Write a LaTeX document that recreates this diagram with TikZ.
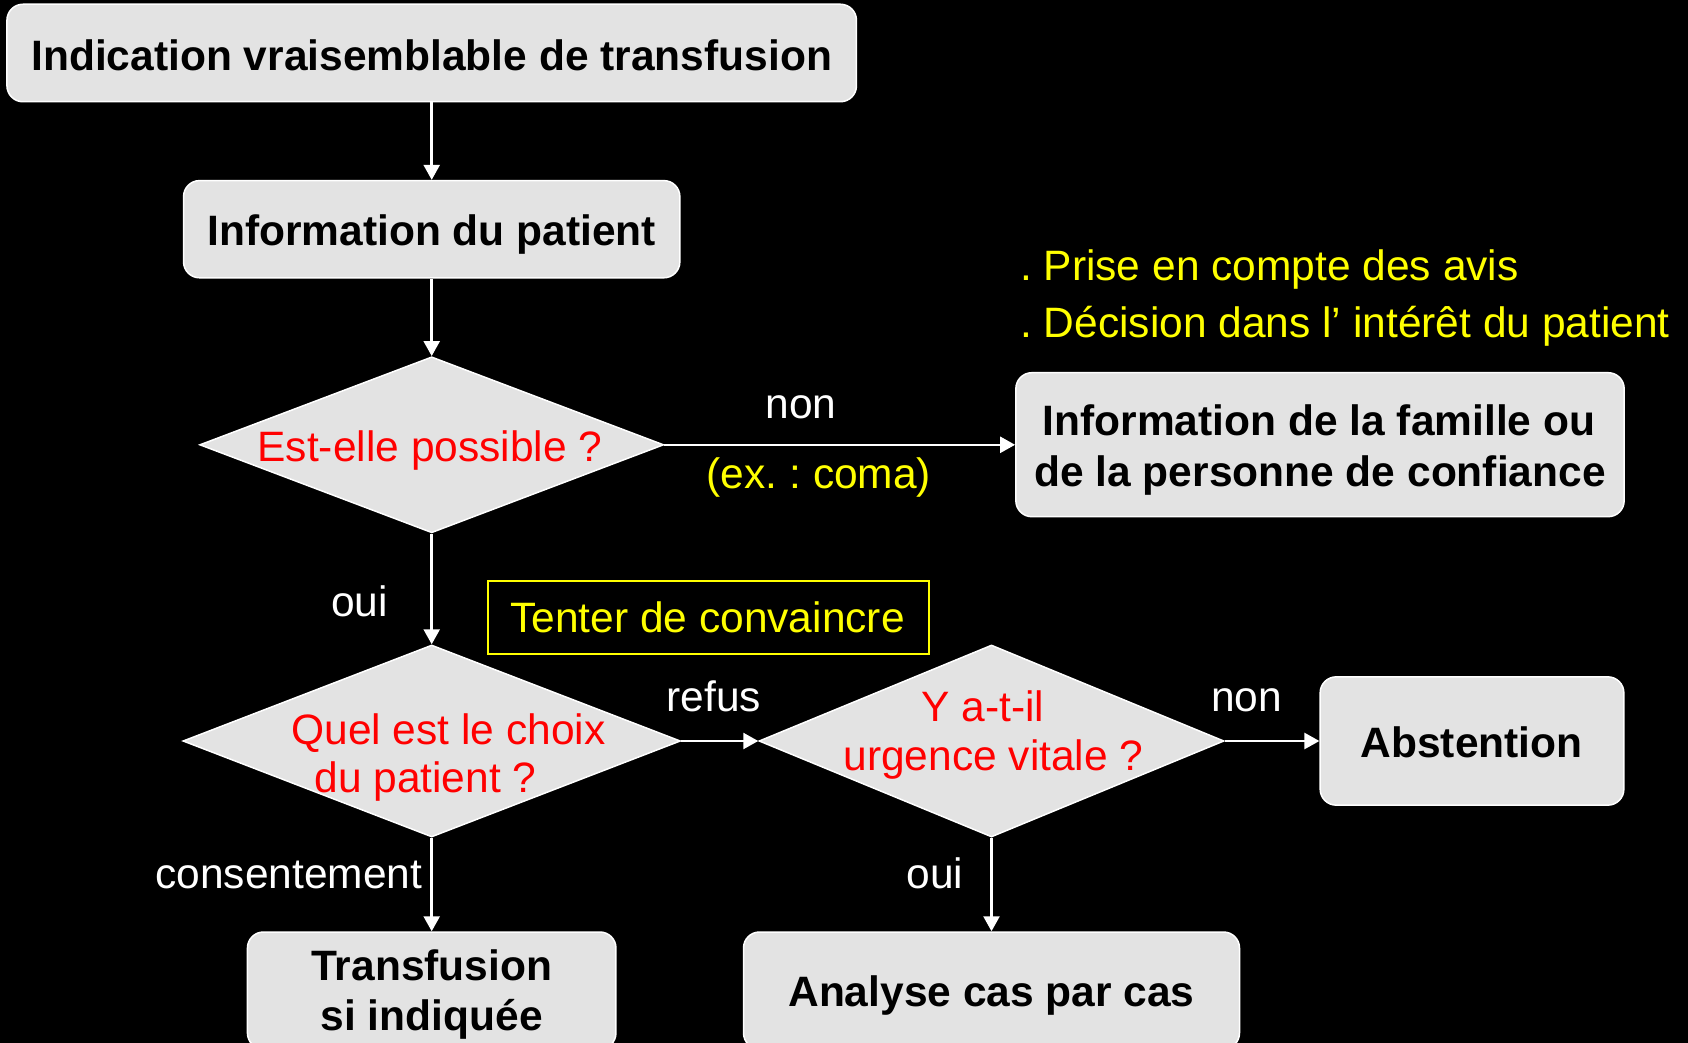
\documentclass[tikz,border=0pt]{standalone}
\usepackage{fontspec}
\setmainfont{Liberation Sans}
\usetikzlibrary{shapes.geometric,arrows.meta}
\frenchspacing
\definecolor{boxgray}{HTML}{E3E3E3}
\definecolor{redq}{HTML}{FF0000}
\definecolor{yelq}{HTML}{FFFF00}
\tikzset{
  box/.style={rectangle, rounded corners=16pt, fill=boxgray, draw=white, line width=1.5pt, inner sep=0pt},
  dia/.style={diamond, fill=boxgray, draw=white, line width=1.5pt, inner sep=0pt},
  ybox/.style={rectangle, draw=yelq, line width=2.5pt, inner sep=0pt},
  arr/.style={draw=white, line width=2.5pt, -{Triangle[length=15pt,width=16pt]}},
  txt/.style={font=\fontsize{42.5}{50}\selectfont, anchor=base, inner sep=0pt},
  bt/.style={txt, font=\fontsize{42.5}{50}\selectfont\bfseries, text=black},
  rt/.style={txt, text=redq},
  wt/.style={txt, text=white},
  yt/.style={txt, text=yelq},
}
\begin{document}
\begin{tikzpicture}[x=1pt, y=-1pt]
\useasboundingbox (0,0) rectangle (1688,1043);
\clip (0,0) rectangle (1688,1043);
\fill[black] (0,0) rectangle (1688,1043);

% shapes
\node[box, minimum width=849.5pt, minimum height=97.5pt] (top) at (431.7,53) {};
\node[box, minimum width=496.3pt, minimum height=97.2pt] (info) at (431.7,229.2) {};
\node[dia, minimum width=464pt, minimum height=176pt] (d1) at (431.7,444.8) {};
\node[box, minimum width=608.3pt, minimum height=144pt] (fam) at (1320,444.7) {};
\node[ybox, minimum width=441pt, minimum height=73pt] (tenter) at (708.5,617.5) {};
\node[dia, minimum width=497.5pt, minimum height=192pt] (d2) at (431.7,741) {};
\node[dia, minimum width=465pt, minimum height=192pt] (d3) at (991.5,741) {};
\node[box, minimum width=303.7pt, minimum height=128.3pt] (abst) at (1472,741) {};
\node[box, minimum width=368.5pt, minimum height=117pt] (trans) at (431.7,990.5) {};
\node[box, minimum width=496pt, minimum height=117pt] (anal) at (991.5,990.5) {};

% connectors
\draw[arr] (top.south) -- (info.north);
\draw[arr] (info.south) -- (d1.north);
\draw[arr] (d1.east) -- (d1.east -| fam.west);
\draw[arr] (d1.south) -- (d2.north);
\draw[arr] (d2.east) -- (d3.west);
\draw[arr] (d3.east) -- (abst.west);
\draw[arr] (d2.south) -- (trans.north);
\draw[arr] (d3.south) -- (anal.north);

% texts
\node[bt] (ttop) at (431.7,70.2) {Indication vraisemblable de transfusion};
\node[bt] (tinfo) at (431.7,245.5) {Information du patient};
\node[rt] (td1) at (430,461.7) {Est-elle possible ?};
\node[wt] (tnon1) at (801,418.3) {non};
\node[yt] (tcoma) at (819,488) {(ex. : coma)};
\node[yt, anchor=base west] (tprise) at (1020,280) {. Prise en compte des avis};
\node[yt, anchor=base west] (tdecis) at (1020,337.3) {. Décision dans l’ intérêt du patient};
\node[bt] (tfam1) at (1319,435) {Information de la famille ou};
\node[bt] (tfam2) at (1320,486) {de la personne de confiance};
\node[wt] (toui1) at (359.5,616) {oui};
\node[yt] (ttenter) at (707.5,632) {Tenter de convaincre};
\node[wt] (trefus) at (714,711.7) {refus};
\node[rt] (td2a) at (448.5,744.3) {Quel est le choix};
\node[rt] (td2b) at (425.5,792.3) {du patient ?};
\node[rt] (td3a) at (983,721.7) {Y a-t-il};
\node[rt] (td3b) at (993.5,770) {urgence vitale ?};
\node[wt] (tnon2) at (1246.7,711.7) {non};
\node[bt] (tabst) at (1471.6,757.7) {Abstention};
\node[wt, anchor=base east] (tcons) at (422.5,888.3) {consentement};
\node[wt] (toui2) at (935,888) {oui};
\node[bt] (ttrans1) at (431.7,980) {Transfusion};
\node[bt] (ttrans2) at (431.7,1030) {si indiquée};
\node[bt] (tanal) at (991.5,1006) {Analyse cas par cas};
\end{tikzpicture}
\end{document}
